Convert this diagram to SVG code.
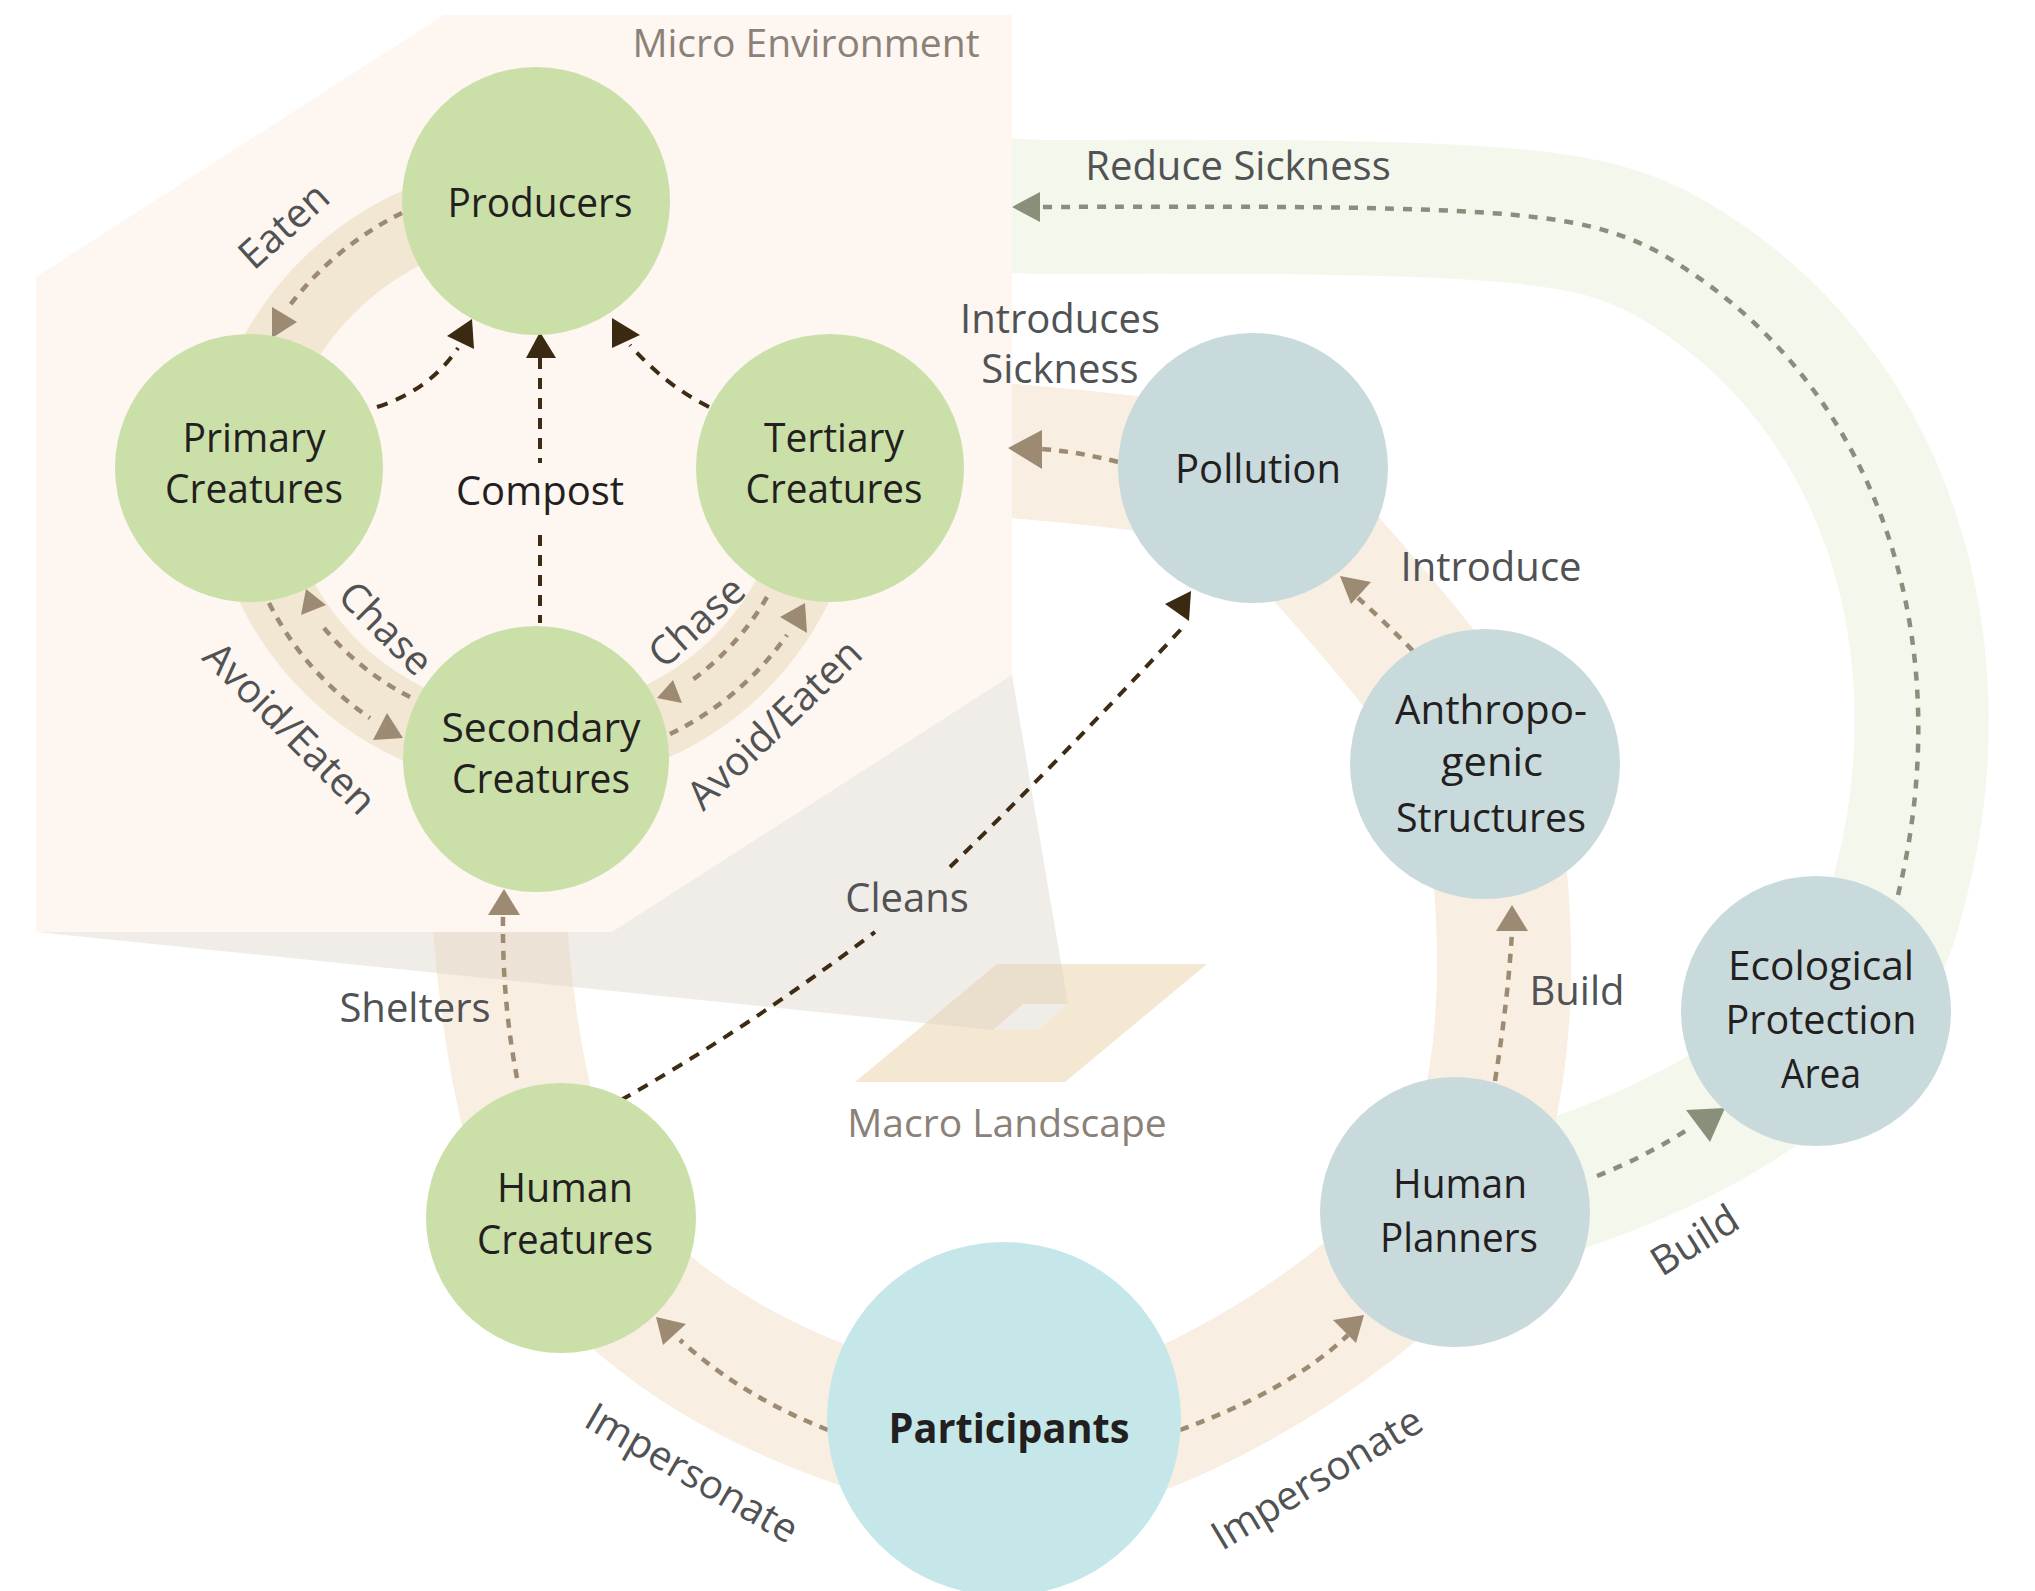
<svg xmlns="http://www.w3.org/2000/svg" width="2035" height="1591" viewBox="0 0 2035 1591">
<style>
.band{fill:none;stroke:#f8eee1;stroke-width:134;stroke-linecap:round}
.gband{fill:none;stroke:#f3f7ec;stroke-width:134;stroke-linecap:butt}
.arc{fill:none;stroke:#f2e7d3;stroke-width:75}
.tan{fill:none;stroke:#9c8a73;stroke-width:4.5;stroke-dasharray:9 8}
.dark{fill:none;stroke:#3d2b14;stroke-width:4;stroke-dasharray:11 9}
.grn{fill:none;stroke:#8a8f7b;stroke-width:4.5;stroke-dasharray:9 9}
.htan{fill:#9c8a73}
.hdark{fill:#3b2a12}
.hgrn{fill:#8a8f7a}
.green{fill:#cae0a8}
.blue{fill:#c9dadc}
.part{fill:#c6e7e9}
.nl{font-family:"Open Sans","Noto Sans",sans-serif;font-size:41px;fill:#231f20;text-anchor:middle}
.el{font-family:"Open Sans","Noto Sans",sans-serif;font-size:40px;fill:#505254;text-anchor:middle}
.title{font-family:"Open Sans","Noto Sans",sans-serif;font-size:39px;fill:#8b8178;text-anchor:middle}
</style>
<rect width="2035" height="1591" fill="#ffffff"/>
<g id="bands">
<path class="gband" d="M1000,205 L1040,207 C1500,205 1590,212 1670,258 C1890,385 1965,650 1898,895 C1860,1050 1720,1140 1500,1205"/>
<path class="band" d="M497,870 Q505,1080 561,1218"/>
<path class="band" d="M561,1218 C640,1320 760,1410 1004,1460"/>
<path class="band" d="M1004,1460 C1130,1455 1330,1350 1455,1212"/>
<path class="band" d="M1455,1212 C1505,1110 1520,960 1485,764"/>
<path class="band" d="M1485,764 C1445,690 1330,560 1253,480"/>
<path class="band" d="M1253,480 Q1150,462 990,449"/>
</g>
<g id="macro-landscape">
<path d="M997,964 L1207,964 L1065,1082 L855,1082 Z M1023,1004 L993,1030 L1038,1030 L1068,1004 Z" fill="#e6c58e" fill-opacity="0.4" fill-rule="evenodd"/>
<polygon points="36,932 993,1030 1038,1030 1068,1004 1012,675" fill="#d9cfc5" fill-opacity="0.4"/>
<text class="title" x="1007" y="1137" font-size="38">Macro Landscape</text>
</g>
<g id="micro-environment">
<polygon points="444,15 1012,15 1012,675 612,932 36,932 36,277" fill="#fdf6f1"/>
<text class="title" x="806" y="57">Micro Environment</text>
<path class="arc" d="M240.6,468.5 A301,301 0 0 1 540,199"/>
<path class="arc" d="M536,751 A291,291 0 0 1 245,468"/>
<path class="arc" d="M824,468 A288,288 0 0 1 536,748"/>
</g>
<g id="connectors">
<path class="tan" d="M402,213 A318,318 0 0 0 290,305"/>
<polygon class="htan" points="272,307 297,322 272,338"/>
<path class="tan" d="M410,697 A269,269 0 0 1 320,623"/>
<polygon class="htan" points="306,589 326,605 301,615"/>
<path class="tan" d="M269,603 A305,305 0 0 0 370,718"/>
<polygon class="htan" points="387,713 403,738 373,740"/>
<path class="tan" d="M767,597 A269,269 0 0 1 688,683"/>
<polygon class="htan" points="673,680 682,703 657,698"/>
<path class="tan" d="M670,734 A305,305 0 0 0 787,635"/>
<polygon class="htan" points="805,603 807,633 780,617"/>
<path class="tan" d="M1118,462 Q1080,452 1042,449"/>
<polygon class="htan" points="1008,448 1042,430 1042,469"/>
<path class="tan" d="M1413,651 Q1385,622 1358,598"/>
<polygon class="htan" points="1340,576 1371,582 1351,604"/>
<path class="tan" d="M1495,1081 Q1508,1000 1512,932"/>
<polygon class="htan" points="1512,905 1496,931 1528,931"/>
<path class="tan" d="M517,1078 Q502,1000 503,916"/>
<polygon class="htan" points="488,915 504,889 520,915"/>
<path class="tan" d="M828,1430 Q740,1395 680,1340"/>
<polygon class="htan" points="656,1317 686,1324 663,1345"/>
<path class="tan" d="M1180,1430 Q1290,1390 1348,1335"/>
<polygon class="htan" points="1333,1320 1364,1315 1356,1343"/>
<path class="dark" d="M377,407 Q430,390 458,348"/>
<polygon class="hdark" points="447,336 472,319 474,349"/>
<path class="dark" d="M540,358 L540,463 M540,535 L540,623"/>
<polygon class="hdark" points="526,358 540,332 556,358"/>
<path class="dark" d="M709,407 Q665,385 630,345"/>
<polygon class="hdark" points="612,318 640,335 612,348"/>
<path class="dark" d="M621,1100 Q745,1030 875,932 M950,867 Q1060,760 1185,625"/>
<polygon class="hdark" points="1165,604 1191,591 1189,621"/>
<path class="grn" d="M1898,895 C1960,640 1880,380 1660,253 C1580,210 1500,205 1040,207"/>
<polygon class="hgrn" points="1012,207 1040,192 1040,222"/>
<path class="grn" d="M1597,1176 Q1645,1157 1690,1128"/>
<polygon class="hgrn" points="1686,1110 1725,1108 1710,1142"/>
</g>
<g id="producers">
<circle class="green" cx="536" cy="201" r="134"/>
<text class="nl" x="540" y="217" textLength="185" lengthAdjust="spacingAndGlyphs">Producers</text>
</g>
<g id="primary-creatures">
<circle class="green" cx="249" cy="468" r="134"/>
<text class="nl" x="254" y="452" textLength="143" lengthAdjust="spacingAndGlyphs">Primary</text>
<text class="nl" x="254" y="503" textLength="178" lengthAdjust="spacingAndGlyphs">Creatures</text>
</g>
<g id="tertiary-creatures">
<circle class="green" cx="830" cy="468" r="134"/>
<text class="nl" x="834" y="452" textLength="140" lengthAdjust="spacingAndGlyphs">Tertiary</text>
<text class="nl" x="834" y="503" textLength="177" lengthAdjust="spacingAndGlyphs">Creatures</text>
</g>
<g id="secondary-creatures">
<circle class="green" cx="536" cy="759" r="133"/>
<text class="nl" x="541" y="742" textLength="199" lengthAdjust="spacingAndGlyphs">Secondary</text>
<text class="nl" x="541" y="793" textLength="178" lengthAdjust="spacingAndGlyphs">Creatures</text>
</g>
<g id="pollution">
<circle class="blue" cx="1253" cy="468" r="135"/>
<text class="nl" x="1258" y="483" textLength="166" lengthAdjust="spacingAndGlyphs">Pollution</text>
</g>
<g id="anthropogenic-structures">
<circle class="blue" cx="1485" cy="764" r="135"/>
<text class="nl" x="1491" y="724" textLength="192" lengthAdjust="spacingAndGlyphs">Anthropo-</text>
<text class="nl" x="1492" y="776" textLength="102" lengthAdjust="spacingAndGlyphs">genic</text>
<text class="nl" x="1491" y="832" textLength="190" lengthAdjust="spacingAndGlyphs">Structures</text>
</g>
<g id="ecological-protection-area">
<circle class="blue" cx="1816" cy="1011" r="135"/>
<text class="nl" x="1821" y="980" textLength="186" lengthAdjust="spacingAndGlyphs">Ecological</text>
<text class="nl" x="1821" y="1034" textLength="191" lengthAdjust="spacingAndGlyphs">Protection</text>
<text class="nl" x="1821" y="1088" textLength="80" lengthAdjust="spacingAndGlyphs">Area</text>
</g>
<g id="human-planners">
<circle class="blue" cx="1455" cy="1212" r="135"/>
<text class="nl" x="1460" y="1198" textLength="134" lengthAdjust="spacingAndGlyphs">Human</text>
<text class="nl" x="1459" y="1252" textLength="158" lengthAdjust="spacingAndGlyphs">Planners</text>
</g>
<g id="human-creatures">
<circle class="green" cx="561" cy="1218" r="135"/>
<text class="nl" x="565" y="1202" textLength="136" lengthAdjust="spacingAndGlyphs">Human</text>
<text class="nl" x="565" y="1254" textLength="176" lengthAdjust="spacingAndGlyphs">Creatures</text>
</g>
<g id="participants">
<circle class="part" cx="1004" cy="1419" r="177"/>
<text class="nl" x="1009" y="1443" font-size="54" font-weight="bold" textLength="241" lengthAdjust="spacingAndGlyphs">Participants</text>
</g>
<g id="edge-labels">
<text class="el" transform="translate(293,236) rotate(-42)">Eaten</text>
<text class="el" transform="translate(376,638) rotate(45)">Chase</text>
<text class="el" transform="translate(280,738) rotate(45)">Avoid/Eaten</text>
<text class="el" transform="translate(706,632) rotate(-42)">Chase</text>
<text class="el" transform="translate(784,734) rotate(-44)">Avoid/Eaten</text>
<text class="el" x="540" y="505" style="fill:#231f20">Compost</text>
<text class="el" x="1238" y="180">Reduce Sickness</text>
<text class="el" x="1060" y="333">Introduces</text>
<text class="el" x="1060" y="383">Sickness</text>
<text class="el" x="1491" y="581">Introduce</text>
<text class="el" x="1577" y="1005">Build</text>
<text class="el" x="415" y="1022">Shelters</text>
<text class="el" x="907" y="912">Cleans</text>
<text class="el" transform="translate(685,1485) rotate(30)">Impersonate</text>
<text class="el" transform="translate(1324,1490) rotate(-31)">Impersonate</text>
<text class="el" transform="translate(1702,1252) rotate(-32)">Build</text>
</g>
</svg>
